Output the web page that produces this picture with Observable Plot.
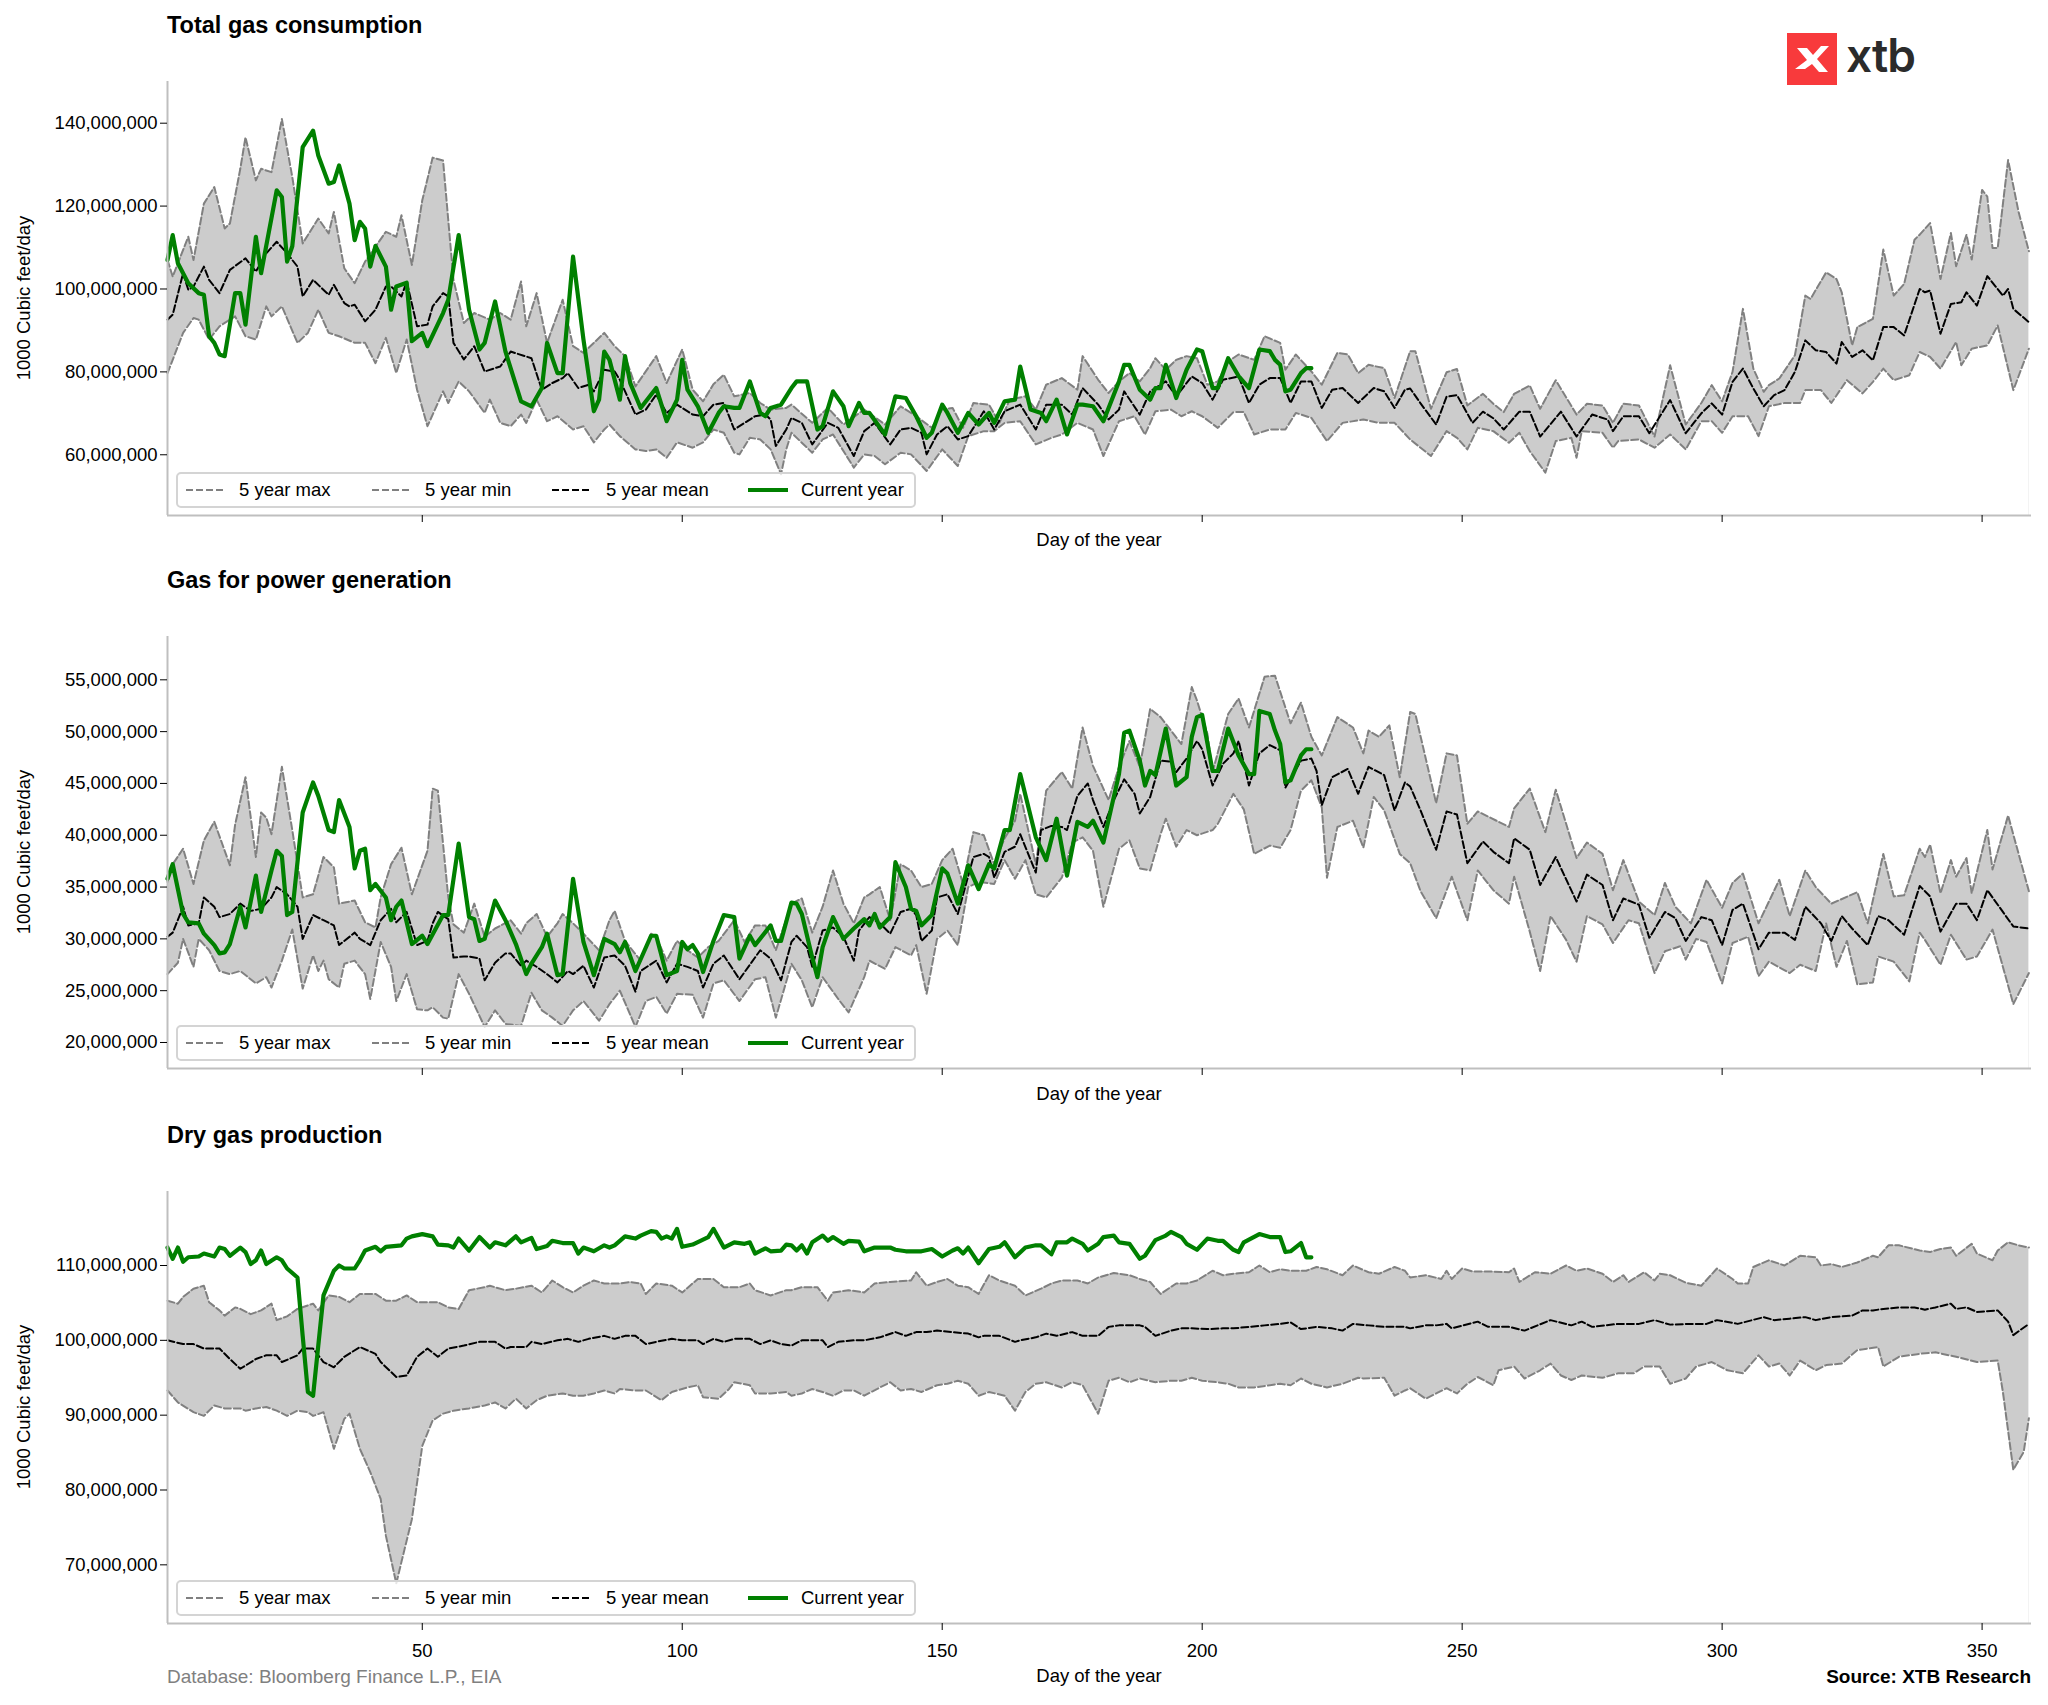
<!DOCTYPE html>
<html><head><meta charset="utf-8">
<script src="https://cdn.jsdelivr.net/npm/d3@7"></script>
<script src="https://cdn.jsdelivr.net/npm/@observablehq/plot@0.6"></script>
<style>
body{margin:0;background:#fff;}
#wrap{position:relative;width:2048px;height:1705px;font-family:"Liberation Sans",Arial,sans-serif;color:#000;background:#fff;overflow:hidden;}
.abs{position:absolute;white-space:nowrap;line-height:1;}
.title{font-weight:bold;font-size:23.5px;}
.lbl{font-size:18.5px;}
.foot{font-size:19px;}
.legend{position:absolute;width:736px;height:32px;border:2px solid #d4d4d4;border-radius:5px;background:rgba(255,255,255,0.8);}
.legend .t{position:absolute;top:7px;font-size:18.5px;line-height:1;white-space:nowrap;}
.legend .s{position:absolute;top:10px;height:12px;}
.legend .s svg{display:block;}
.brand{font-family:Inter,"Open Sans",sans-serif;font-size:46px;font-weight:600;color:#2b2b2b;letter-spacing:-1px;}
</style></head>
<body><div id="wrap"></div>
<script>
const UNIT = 1e6;
const xTicks = [50, 100, 150, 200, 250, 300, 350];
const titles = ["Total gas consumption", "Gas for power generation", "Dry gas production"];
const legendLabels = ["5 year max", "5 year min", "5 year mean", "Current year"];
const yAxisLabel = "1000 Cubic feet/day";
const xAxisLabel = "Day of the year";
const p1YTicks = [60, 80, 100, 120, 140];
const p2YTicks = [20, 25, 30, 35, 40, 45, 50, 55];
const p3YTicks = [70, 80, 90, 100, 110];

// ---------- Panel 1: Total gas consumption (million units of 1000 cubic feet/day) ----------
const p1MaxDays = [1,2,5,6,8,10,12,13,15,16,18,19,21,23,25,27,30,32,33,35,37,39,43,45,46,48,50,52,54,56,58,60,63,65,67,69,70,72,74,77,79,81,85,87,89,91,95,97,100,102,104,106,108,110,113,115,117,120,
121,125,128,131,135,139,142,145,148,150,152,154,156,159,161,163,166,168,170,173,176,177,180,182,184,186,188,190,191,193,195,197,199,201,203,205,207,210,212,215,216,218,221,223,226,228,230,232,235,237,
240,241,244,247,249,251,254,256,258,260,263,265,268,272,274,277,279,281,284,287,290,293,296,298,300,302,304,306,308,309,311,314,316,317,320,322,323,325,326,329,331,333,335,337,338,340,342,344,345,347,348,350,351,352,353,355,357,359];
const p1MaxVals = [107,103,112.6,107,120.6,124.6,114.6,115.8,129,136.6,126.2,129,128.2,141,127,111,117,113.4,118.6,105,101.4,106.6,113.8,112.6,117.8,105.8,121.4,131.7,131,102.2,91.8,94.2,92.6,94.2,92.6,101.8,91,99,87,97.4,86.2,84.6,89.4,86.2,83.8,76.5,83.8,77.3,85.4,75.7,72.9,77,79.3,74.1,74.9,72.5,70.9,71.3,
72.1,67.7,71.3,67.3,70.9,67.3,71.7,69.3,66.5,70.9,71.3,66.5,72.5,72.1,67.7,73.3,74.1,70.9,76.9,78.5,75.7,83.8,78.1,74.9,77.7,79.7,77.7,80.9,83.3,80.5,82.9,83.8,83.3,76.9,77.7,82.5,84.2,82.9,88.6,87,80.5,84.2,80.1,76.9,84.6,84.2,79.7,81.7,80.9,73.7,
85,85,71.1,79.9,80.7,71.9,74.7,72.3,70.3,74.7,76.7,71.1,78,69.7,72.3,71.9,67.7,72.3,71.9,64.4,81.6,67.3,72.5,76.8,72.9,80,95.2,80.8,75.2,76.8,78.4,84,98.4,97.6,104,102.4,99.2,86.4,90.8,92.8,109.5,98.4,101.2,111.9,113.1,115.9,102.4,113.5,105.5,113.1,107.1,123.9,122.3,109.9,109.9,131.1,118.7,109.1];

const p1MinDays = [1,4,6,7,9,11,14,16,18,20,21,23,26,28,30,32,34,37,39,41,43,45,47,49,51,54,55,57,59,62,63,65,67,69,70,72,74,76,79,81,83,85,86,88,91,93,95,97,99,102,104,106,108,110,111,113,115,117,119,120,
121,125,127,129,133,135,137,139,142,144,147,150,153,155,158,160,162,165,168,171,173,176,179,181,184,187,189,191,194,196,198,200,203,206,208,210,213,216,218,221,224,227,231,234,237,
240,244,247,249,251,253,256,259,261,263,266,268,271,272,273,277,279,280,284,287,290,293,296,298,300,302,305,307,309,312,315,316,319,321,324,327,329,331,333,336,338,340,342,345,346,348,351,353,356,359];
const p1MinVals = [79.7,89.4,93,92.6,87.8,91,93.4,88.6,87.8,95.8,93.4,95.8,87,89.4,95,89.4,88.6,87,87,82.1,88.2,79.7,87.8,75.7,66.9,75.3,72.5,77.7,75.3,70.1,73.3,67.7,66.9,69.7,67.7,73.3,68.1,69.3,66.1,66.9,63,66.1,67.3,64.5,61.3,60.9,61.3,59.3,63,61.7,63,66.1,65.3,60.5,60.1,64.1,63.7,61.3,55.3,61.3,
65.3,60.5,63.7,64.9,56.9,60.1,59.7,57.7,60.5,60.1,56.1,61.3,57.3,64.5,65.7,65.7,67.7,68.1,62.5,64.1,64.9,67.7,66.1,59.7,68.1,69.3,64.9,70.5,70.9,69.3,70.5,69.3,66.5,70.3,70.3,64.9,66.1,66.1,70.1,68.9,63.3,67.7,68.5,67.7,67.7,
63.7,59.7,65.7,64.1,61.3,66.5,65.7,62.9,65.3,60.9,55.7,63.3,64.1,59.3,65.7,65.3,61.7,63.3,63.7,61.7,64.9,61.3,68.1,68.1,65.3,69.3,69.3,64.5,71.7,72.5,72.5,75.6,75.6,72.5,78,74.8,77.6,80.8,78,79.2,84.8,83.6,80.8,87.2,81.6,85.6,86.4,91.2,75.6,85.6];

const p1MeanDays = [1,2,4,5,6,8,9,11,13,16,18,20,22,24,26,27,29,32,33,35,36,37,39,41,43,44,46,47,49,51,52,54,55,56,58,60,62,65,67,71,73,75,77,78,80,82,83,85,87,88,91,93,95,97,99,102,104,106,108,110,112,114,116,117,118,120,
121,123,125,128,130,133,135,137,140,142,144,146,147,149,151,153,155,158,160,162,165,168,170,173,175,177,180,182,184,185,188,190,193,195,198,200,202,204,207,209,211,213,215,217,219,221,223,225,227,230,233,235,237,239,
240,242,245,247,249,252,254,256,258,261,263,265,269,272,275,278,279,281,284,286,290,293,296,298,300,302,304,306,308,310,312,314,316,318,320,322,323,325,327,329,331,333,335,338,339,340,342,344,346,347,349,351,354,355,356,359];
const p1MeanVals = [92.6,93.8,103.8,99.8,100.6,105.4,102.2,99,104.6,107.4,104.2,108.6,111.4,108.6,105.4,98.2,102.2,98.6,101,96.6,95.8,96.2,92.2,95,100.6,100.6,98.2,101.8,91,91.4,95.8,99,98.2,87,83,86.2,80.1,81.3,84.9,83.3,75.7,77.3,78.5,79.7,76.1,76.9,75.3,80.5,80.1,78.1,69.7,70.9,74.5,70.1,72.1,69.7,69.3,72.1,72.5,66.1,67.7,69.3,69.7,68.5,62.1,66.1,
68.9,67.7,62.5,67.7,66.5,59.7,65.7,67.7,62.5,66.1,66.5,65.3,60.1,64.9,66.9,63.7,64.5,70.5,66.1,70.5,72.1,66.1,72.1,72.1,69.7,76.1,72.1,68.5,70.9,75.3,69.7,75.3,77.7,74.1,78.9,77.3,73.3,78.1,78.9,72.5,76.9,78.5,78.5,72.5,77.7,77.7,71.3,75.7,76.1,72.5,76.1,75.3,71.3,75.7,
76,72.4,67.3,74,74.4,67.7,70.4,68.8,66.1,70.4,70.4,64.4,70.4,64.4,69.7,68.5,65.7,69.3,69.3,65.2,73.2,65.2,70,72.4,69.7,77.6,80.8,76,71.7,74.4,75.6,80,87.6,85.2,84.8,82,87.2,83.6,85.2,82.8,90.8,90.8,88.8,100,99.2,99.6,89.2,96.4,96.8,99.2,96,103.1,98.4,100,95.2,92];

const p1CurDays = [1,2,3,5,7,8,9,10,11,12,14,15,16,18,19,22,23,24,25,27,29,30,32,33,34,36,37,38,39,40,41,43,44,45,47,48,50,51,54,55,57,59,61,62,64,66,69,71,73,74,76,77,79,81,83,84,85,86,88,89,90,92,95,97,99,100,101,103,105,107,108,110,111,113,115,116,117,119,
121,122,124,126,127,129,131,132,134,135,136,139,141,143,145,147,148,150,151,153,155,157,159,160,162,164,165,167,169,170,172,174,176,177,179,181,184,185,186,188,190,191,192,193,195,197,199,200,202,203,205,207,209,211,213,214,215,216,217,219,220,221];
const p1CurVals = [107,113,106.2,101.4,99,98.6,88.6,87,84.2,83.8,99,99,91.4,112.6,103.8,123.8,122.2,106.6,110.3,134.2,138.2,132.2,125.4,125.8,129.8,120.6,111.8,116.2,114.6,105.4,110.4,105.4,95,100.6,101.5,87.4,89.4,86.2,94.2,97.4,113,95,85.4,87,97,84.9,72.9,71.7,76.1,87,79.7,79.7,107.8,87.8,70.5,73.3,84.9,82.9,73.3,83.8,77.3,71.3,76.1,68.1,73.3,82.9,75.7,71.7,65.3,70.1,71.7,71.3,71.3,77.7,70.1,69.3,71.3,72.1,
76.1,77.7,77.7,66.1,66.9,75.3,71.7,66.9,72.5,70.1,70.1,64.9,74.1,73.7,69.3,64.1,65.3,72.1,70.1,65.3,70.1,67.3,70.1,67.7,72.9,73.3,81.3,70.9,70.1,68.1,73.3,64.9,72.1,72.1,71.7,68.1,77.7,81.7,81.7,75.7,73.3,76.1,76.1,81.7,73.7,80.5,85.4,85,76.1,76.1,83.3,79,76.1,85.4,85,82.9,81.7,75.3,75.7,79.7,80.9,80.9];

// ---------- Panel 2: Gas for power generation ----------
const p2MaxDays = [1,2,4,6,8,10,13,14,16,18,19,20,21,23,25,27,29,31,33,34,37,39,41,42,44,46,48,51,52,53,55,56,58,60,62,64,67,69,70,72,74,76,77,79,81,84,86,87,89,92,94,95,97,99,101,103,105,107,110,112,114,116,118,
121,123,125,127,129,131,133,135,136,138,140,142,144,146,148,150,152,154,156,158,160,162,164,165,168,170,173,175,177,179,182,184,186,188,190,192,194,196,198,199,201,202,205,207,209,212,214,217,219,221,223,226,229,231,232,234,236,238,
240,241,245,247,249,251,253,255,259,260,263,266,268,272,274,277,279,281,284,287,289,291,294,297,300,302,304,307,311,313,316,318,321,326,328,331,333,335,338,339,340,342,344,345,347,348,351,352,355,359];
const p2MaxVals = [35.5,37.2,38.7,35.3,39.5,41.3,37.1,41,45.6,37.9,42.2,41.7,40.1,46.6,40.5,34,34.3,37.9,36.9,33.4,33.7,31.6,31.1,34,37.2,38.8,34.3,38.5,44.5,44.3,34,31.4,30.6,33.4,30.2,31,31.8,30.5,31.5,32.4,30.2,31.5,32.4,31.5,30.5,28.9,31.8,32.7,29.8,27.9,30.5,30.2,27.9,29.8,28.9,28.2,29.2,29.8,31.8,29.7,31.3,31.3,28.9,
33.4,33.9,30.6,33.1,36.6,33.4,31.5,34,34.3,35,31.8,37.2,36.6,35,35.3,37.6,38.7,35.3,40.3,40,37.2,39.7,41.4,44,37.2,44.3,46.1,44.5,50.4,46.7,43.4,46.6,49.1,46.6,52.2,51.4,50.1,48.8,54.3,53,49.8,46.1,51.7,53.2,50.4,55.3,55.4,50.8,52.8,49.5,47.7,51.4,50.4,47.9,50.1,49.5,50.6,45.6,
51.9,51.7,43.1,47.9,47.7,41.1,42.3,41.8,40.8,42.6,44.5,40.3,44.4,37.8,39.3,38.2,34.7,37.6,33.6,32.3,35.4,33.1,31.5,35.7,33,35.4,36.3,31.5,35.7,32.2,36.6,35,33.4,34.5,31.5,38.2,34.1,34.2,38.7,37.9,39.1,34.4,37.6,36,37.8,34.4,40.5,36.7,41.9,34.6];

const p2MinDays = [1,3,4,6,7,9,11,13,15,18,20,21,23,25,27,29,30,31,32,34,35,37,39,40,42,44,45,47,49,51,52,54,55,57,59,62,64,66,69,71,73,75,77,79,81,84,86,88,91,93,95,97,99,102,104,106,108,111,114,116,118,
121,123,125,127,130,132,135,136,139,141,144,145,147,149,151,153,155,157,160,162,164,166,168,170,173,175,177,179,181,184,186,188,190,192,193,195,197,199,202,203,206,208,210,213,215,217,219,221,223,224,226,229,231,233,235,238,
240,242,245,248,251,253,256,259,260,263,265,267,270,272,274,277,279,282,284,287,289,292,293,295,297,300,302,305,307,309,313,315,318,320,322,324,326,329,330,333,336,338,339,342,344,347,349,352,356,359];
const p2MinVals = [26.6,27.7,30,27.3,30,28.9,26.9,26.6,26.9,25.7,26.3,25.3,27.9,30.9,25.2,28.4,26.9,27.9,26.1,25.3,27.6,27.9,26.6,24.2,29.7,27.3,24,26.6,23.2,23.1,23.4,22.4,22.3,26.6,24.7,21.5,23.1,21.8,21.6,24.8,23.1,22.4,21.6,23.1,24,22.1,23.7,25,21.5,24,24.4,22.8,24.7,24.6,22.4,25.7,26,24,26.1,26.3,22.4,
27.6,26,23.4,26.3,24.2,22.9,26.3,27.9,27.1,29.2,28.4,29.4,24.7,30,30.8,29.4,35,35.5,35.3,37.6,35.8,37.6,34.3,34,35.9,39.3,39.8,38.5,33.1,38.7,39.5,36.8,36.6,40.1,41.6,38.9,40.5,40,40.5,41.1,44,42.5,38.2,39,38.8,40.5,44.3,45.3,42.7,35.9,40.8,41.4,38.8,43.7,42.4,38.2,
37.3,34.6,32,36,31.8,36.6,34.7,33.4,36,30.7,26.9,32.2,29.9,27.8,32.2,31.4,29.6,31.8,31.5,26.7,28.8,29.3,28,30,29.7,25.7,29.6,30.2,26.4,27.8,26.7,27.5,26.9,31.5,27.3,29.8,25.6,25.8,28.3,27.8,25.9,30.6,29.9,27.5,30.4,28,28.3,30.9,23.7,26.7];

const p2MeanDays = [1,2,4,5,7,8,10,11,13,15,17,19,21,22,24,26,27,29,31,33,34,37,38,40,42,44,45,47,49,51,52,53,55,56,58,59,61,62,64,66,67,69,70,72,74,76,78,79,81,83,85,87,89,91,92,95,97,99,101,103,104,106,108,111,114,115,117,119,
121,122,124,125,127,129,131,133,134,136,138,140,142,144,145,146,148,149,151,153,156,158,159,160,162,164,165,168,169,171,173,174,176,178,179,181,183,185,187,188,190,192,194,195,197,199,200,202,204,206,207,209,211,213,215,216,219,221,222,223,225,228,230,232,235,237,239,
240,242,245,247,249,251,254,256,259,260,263,265,268,272,274,277,279,281,284,286,289,291,293,296,298,300,302,304,307,309,312,314,316,319,321,323,325,328,330,332,335,338,340,342,345,347,349,351,354,356,359];
const p2MeanVals = [30.2,30.6,33.1,31.3,31.5,34,33.1,32.1,32.4,33.4,32.7,32.9,34,35,34.3,33.1,30,32.3,31.8,31.3,29.4,30.6,30,29.4,31.8,32.9,31.6,32.6,29.4,29.8,31.5,32.6,31.9,28.2,28.3,28.3,28.1,26,27.7,28.6,28.6,27.4,27.9,27.3,26.6,25.8,26.9,26.6,27.4,25.3,28.2,28.4,27.4,24.9,26.9,27.9,25.8,27.6,27.3,26.9,25.3,27.6,28.4,26.1,28.2,28.9,28.1,26,
29.7,30.3,29.2,27.3,30.8,31.1,30.2,27.9,30.8,32.1,31.5,30.5,32.6,32.9,32.3,29.8,30.8,34,34.3,32.4,37.9,38.2,37.9,35.9,38.4,38.9,40.1,36.4,40.5,40.9,40.8,40.5,43.8,45,43.4,40.8,43.4,45.4,44,42.1,43.7,47.2,47.1,46.1,47.4,49.1,48.3,44.8,46.9,47.9,49.1,44.8,47.9,48.7,48.2,44.6,47.2,47.4,46.2,42.9,45.6,46.4,44,46.6,45.8,42.4,45.1,
44.7,42.4,38.6,42.3,42,37.3,39.4,38.4,37.3,39.7,38.6,35.2,37.9,33.6,36.2,35.2,31.8,33.9,33.3,30.1,32.6,32,29.8,32.1,31.8,29.4,32.8,33.4,29,30.6,30.6,29.9,33.1,31.5,29.8,32.2,31,29.4,32.2,31.8,30.4,35.1,34.1,30.7,33.4,33.4,31.8,34.7,32.6,31.2,31];

const p2CurDays = [1,2,4,5,7,8,10,11,12,13,15,16,18,19,21,22,23,24,25,27,29,30,32,33,34,36,37,38,39,40,41,43,44,45,46,48,50,51,54,55,57,59,60,61,62,64,66,68,70,71,73,74,76,77,79,81,83,85,87,88,89,91,94,95,97,99,100,101,102,103,104,106,108,110,111,113,114,117,118,119,
121,122,123,125,126,127,129,131,133,135,136,137,138,140,141,143,144,145,146,148,150,151,153,155,157,159,160,162,163,165,168,170,172,174,176,178,179,181,184,185,186,188,189,190,191,193,195,197,198,199,200,202,203,205,207,209,210,211,213,214,215,216,217,219,220,221];
const p2CurVals = [35.8,37.2,32.4,31.6,31.5,30.5,29.4,28.6,28.7,29.5,33.1,31.1,36.1,32.6,36.6,38.5,38,32.3,32.6,42.2,45.1,43.8,40.5,40.3,43.4,40.8,36.8,38.5,38.7,34.7,35.3,34,31.8,33.1,33.7,29.5,30.3,29.5,32.3,32.3,39.2,32.1,31.9,29.8,30,33.7,31.8,29.5,26.6,27.6,29.2,30.5,26.5,26.6,35.8,29.7,26.5,30,29.5,28.7,29.7,26.9,30.3,30.3,26.5,26.9,29.7,29,29.4,28.6,26.8,29.8,32.3,32.1,28.1,30.3,29.4,31.3,29.8,29.8,
33.5,33.4,32.4,28.2,26.3,29.2,32.1,30,31,31.9,31.3,32.4,31.1,32.1,37.4,35,32.9,32.7,31.3,32.3,36.8,36.3,33.4,37.1,34.8,37.2,36.8,40.5,40.5,45.9,39.8,37.6,41.6,36.1,41.3,40.8,41.4,39.3,45.9,49.9,50.1,47.2,44.8,46.2,45.8,50.3,44.8,45.6,49.5,51.4,51.6,46.2,46.2,50.3,47.7,45.9,45.9,52,51.7,50.1,48.8,45.1,45.3,47.7,48.3,48.3];

// ---------- Panel 3: Dry gas production ----------
const p3MaxDays = [1,3,4,6,8,9,11,12,14,15,17,19,21,22,24,26,29,30,32,34,36,38,41,43,45,47,49,51,53,55,57,59,62,63,66,68,71,73,75,77,79,81,83,85,88,90,92,93,95,98,100,103,106,108,111,113,114,117,120,
121,123,126,128,129,132,135,137,140,144,145,147,149,151,153,155,157,159,161,164,166,169,171,173,176,178,180,183,186,188,190,192,195,197,199,202,204,206,209,211,213,215,217,220,222,224,227,229,232,234,237,239,
240,243,246,247,248,250,252,255,259,260,261,264,267,270,272,274,277,279,281,282,285,287,288,290,293,296,299,302,303,305,306,309,312,315,318,319,321,323,326,329,330,332,334,338,340,342,344,345,348,349,352,353,355,357,359];
const p3MaxVals = [105.3,104.9,105.8,106.9,107.3,105.1,104,103.3,104.4,104.2,103.5,104,104.9,102.7,103.2,104.2,104.9,104,106,105.8,105.1,106.2,106.2,105.3,105.3,106,105.1,105.1,105.1,104.4,104.2,106.7,107.1,107.3,106.7,106.9,107.3,106.4,108,107.1,106.4,107.3,108,107.6,107.6,107.8,107.6,106.2,107.6,107.3,106.4,108.2,108.2,107.1,107.1,107.6,106.7,106,106.7,
106.7,107.1,107.1,105.3,106.4,106.7,106.4,107.6,107.8,108,109.1,107.3,107.8,108.2,107.3,107.1,106.2,108.7,108,107.3,106,106.9,107.6,108,108,107.6,108.4,109,108.7,108.2,107.8,106.2,107.6,107.6,108,109.3,108.7,108.9,109.1,110,109.1,109.5,109.3,109.3,109.8,109.5,108.7,110,109.1,108.9,109.8,109.3,
108.4,108.7,108.2,109.3,108.2,109.6,109.2,109.2,109.1,109.6,107.8,109.1,108.9,110,109.3,109.6,108.9,107.8,108.7,107.8,109.1,108,108.9,108.7,107.7,107.3,109.6,108.2,107.6,107.6,109.8,110.7,110,111.3,111.1,110,110.2,109.8,110.4,111.3,111.1,112.7,112.7,112,111.8,112.2,112.4,111.3,112.9,111.6,110.7,112,113.1,112.7,112.4];

const p3MinDays = [1,3,6,8,10,12,15,16,18,20,22,24,26,28,29,31,33,35,36,38,40,42,43,45,46,48,50,52,54,56,59,62,64,66,68,70,72,74,77,79,81,83,85,87,88,91,93,96,98,101,103,104,107,109,110,113,114,117,120,
121,123,125,127,129,131,133,135,138,140,142,144,146,149,151,153,155,157,159,162,164,166,168,170,173,175,177,180,182,184,186,188,191,194,196,198,200,203,205,207,210,213,215,217,219,221,224,227,230,231,235,237,239,
240,243,245,247,249,251,253,256,257,260,262,265,267,269,271,273,277,280,283,285,288,290,293,295,298,301,304,307,309,311,313,315,318,320,323,326,330,331,334,338,341,345,349,353,354,356,358,359];
const p3MinVals = [93.3,91.7,90.4,89.9,91.3,90.9,90.9,90.6,90.9,91.1,90.6,89.9,90.6,90.4,89.9,90.4,85.5,89.5,90.2,85.5,82.4,78.8,73.9,67.5,70.4,76.1,85.9,89.3,90.2,90.6,90.9,91.3,91.7,90.9,92.2,90.9,92,92.6,92.9,92.6,92.6,92.9,93.3,92.9,93.5,93.3,93.3,92,93.1,93.7,94,92.4,92.2,93.5,94.4,94,92.9,92.9,93.1,
92.6,92.9,93.5,93.1,92.6,93.3,93.3,92.6,93.7,94.4,93.3,93.5,93.1,94,94.2,94.6,94.2,92.6,93.1,92.6,90.6,93.1,94.2,94.4,93.7,94.4,94,90.2,94.6,95,94.4,94.9,94.4,94.6,94.6,95,94.6,94.4,94.2,93.7,93.7,94,94.2,94,94.9,94.2,93.7,94.2,95,94.9,95,92.6,93.3,
93.6,92.2,92.9,93.6,92.9,94.2,95.1,94,96,96.5,94.9,96,96.9,95.3,94.7,95.3,95,95.6,95.6,96.5,96.5,94.2,94.9,96.5,97.1,96,95.6,98,96.5,96.9,95.3,97.3,96,96.7,96.9,98.7,99.1,96.5,97.8,98.2,98.4,97.8,97.1,97.3,93.1,82.7,85.1,89.6];

const p3MeanDays = [1,4,6,8,10,11,13,15,18,20,22,23,26,27,29,31,33,35,38,41,42,45,47,49,51,53,55,58,61,63,64,66,67,70,71,73,76,78,80,82,85,87,89,91,93,95,98,100,103,104,106,108,110,113,115,117,119,
121,123,126,127,128,130,133,135,138,141,143,145,147,149,152,155,157,158,161,164,165,168,170,172,175,177,180,182,184,186,188,189,191,194,196,198,201,204,206,209,212,215,217,219,222,225,227,229,232,235,239,
240,243,245,247,248,253,255,259,262,267,271,273,275,280,284,287,288,290,294,297,299,303,308,310,313,316,318,321,325,327,329,331,334,337,339,341,344,345,347,349,353,355,356,359];
const p3MeanVals = [100,99.5,99.5,98.9,98.9,98.9,97.5,96.2,97.5,98,98,97.1,98,98.9,98.9,97.1,96.4,97.8,99.1,98.2,97.1,95.1,95.3,97.8,98.9,97.8,98.9,99.3,99.8,99.8,99.8,98.9,99.1,99.1,99.8,99.5,100,100.2,99.8,100.2,100.6,100.2,100.6,100.6,99.5,99.8,100.2,100,100,99.5,100.2,99.8,100.2,100.2,99.5,100,99.5,
99.3,100,100,100,99.1,99.8,100,100,100.4,101.1,100.6,101.1,101.1,101.3,101.1,100.9,100.4,100.6,100.6,99.8,100,100.4,100.9,100.6,101.1,100.6,100.6,101.8,102,102,102,101.8,100.6,101.3,101.6,101.6,101.5,101.6,101.6,101.8,102,102.2,102.4,101.5,101.8,101.6,101.3,102.2,102,101.8,101.8,
101.6,102,102,102.2,101.6,102.5,101.8,101.8,101.3,102.7,102,102.5,101.8,102.2,102.2,102.7,102.5,102.1,102.2,102.2,102.7,102.2,103.1,102.7,102.9,103.1,102.7,103.1,103.3,104,104,104.2,104.4,104.4,104.1,104.4,104.9,104.2,104.4,103.8,104,102.5,100.7,102.2];

const p3CurDays = [1,2,3,4,5,7,8,10,11,12,13,15,16,17,18,19,20,22,23,24,26,27,28,29,30,31,33,34,35,37,38,39,41,42,43,46,47,48,50,52,53,55,56,57,59,61,62,63,64,66,68,69,71,72,74,75,77,79,80,81,83,85,86,87,89,91,92,94,95,96,97,98,99,100,102,105,106,108,110,112,113,114,116,117,119,120,
121,122,123,124,125,127,128,129,131,132,134,135,137,140,141,143,146,148,150,152,153,154,155,157,159,161,162,164,166,168,169,171,172,174,175,177,178,180,181,183,184,186,188,189,191,193,194,196,197,199,201,203,204,206,207,208,211,213,215,216,217,219,220,221];
const p3CurVals = [112.4,110.9,112.4,110.5,111.1,111.2,111.6,111.2,112.4,112.2,111.3,112.4,111.8,110.2,110.7,112,110.2,111.1,110.7,109.6,108.4,100.6,93.1,92.6,99.3,106,109.3,110,109.6,109.6,110.7,112,112.5,111.9,112.5,112.7,113.6,113.9,114.2,113.9,112.8,112.7,112.4,113.6,112,113.8,113.1,112.4,113.1,112.7,113.9,113.1,113.7,112.2,112.6,113.3,113,113,111.6,112.4,111.9,112.7,112.4,112.7,113.9,113.6,114,114.6,114.5,113.6,113.9,113.6,114.9,112.5,112.8,113.8,114.9,112.4,113.1,112.9,113.1,111.6,112.3,111.9,112,112.8,
112.7,112,112.7,111.6,113.1,114,113.3,113.8,112.9,113.3,113.2,111.9,112.4,112.4,112.1,111.9,111.9,112.2,111.2,112,112.3,111.6,112.4,110.3,112.2,112.5,113.1,111.1,112.4,112.7,112.7,111.5,113.1,113.1,113.6,112.9,112,112.9,113.8,114,113.1,112.9,110.9,111.3,113.4,114,114.5,113.8,112.9,112.1,113.6,113.3,113.3,112.1,111.8,113.1,114.2,113.8,113.8,111.8,111.9,113,111.1,111.1];

// ---------- build ----------
const rows = (days, vals) => days.map((d, i) => ({day: d, v: vals[i]}));

const panels = [
  {title: titles[0], yDomain: [45.35, 150.06], yTicks: p1YTicks, top: 0, mt: 81, fh: 434, mb: 45, xLabels: false, xlab: 16,
   max: rows(p1MaxDays, p1MaxVals), min: rows(p1MinDays, p1MinVals), mean: rows(p1MeanDays, p1MeanVals), cur: rows(p1CurDays, p1CurVals)},
  {title: titles[1], yDomain: [17.49, 59.18], yTicks: p2YTicks, top: 560, mt: 76, fh: 432, mb: 47, xLabels: false, xlab: 17,
   max: rows(p2MaxDays, p2MaxVals), min: rows(p2MinDays, p2MinVals), mean: rows(p2MeanDays, p2MeanVals), cur: rows(p2CurDays, p2CurVals)},
  {title: titles[2], yDomain: [62.16, 119.89], yTicks: p3YTicks, top: 1115, mt: 76, fh: 432, mb: 82, xLabels: true, xlab: 44,
   max: rows(p3MaxDays, p3MaxVals), min: rows(p3MinDays, p3MinVals), mean: rows(p3MeanDays, p3MeanVals), cur: rows(p3CurDays, p3CurVals)}
];

const wrap = document.getElementById("wrap");
const fmt = d3.format(",");
const GRAY = "#808080", BAND = "#cccccc", GREEN = "#008000", SPINE = "#bfbfbf";

function addDiv(cls, text, style) {
  const el = document.createElement("div");
  el.className = "abs " + cls;
  el.textContent = text;
  Object.assign(el.style, style);
  wrap.appendChild(el);
  return el;
}

function sampleSvg(w, stroke, sw, dash) {
  return `<svg width="${w}" height="12"><line x1="0" y1="6" x2="${w}" y2="6" stroke="${stroke}" stroke-width="${sw}" ${dash ? `stroke-dasharray="${dash}"` : ""}/></svg>`;
}

panels.forEach(p => {
  const [lo, hi] = p.yDomain;
  const height = p.mt + p.fh + p.mb;
  const chart = Plot.plot({
    width: 2048, height,
    marginLeft: 167, marginRight: 17, marginTop: p.mt, marginBottom: p.mb,
    x: {domain: [1, 359.5]},
    y: {domain: [lo, hi]},
    style: {fontFamily: "'Liberation Sans', Arial, sans-serif", fontSize: "18.5px", color: "#000", background: "transparent", overflow: "visible"},
    marks: [
      Plot.areaY(p.max, {x: "day", y1: () => lo, y2: "v", fill: BAND}),
      Plot.areaY(p.min, {x: "day", y1: () => lo, y2: "v", fill: "#ffffff"}),
      Plot.lineY(p.max, {x: "day", y: "v", stroke: GRAY, strokeWidth: 2, strokeDasharray: "7,3"}),
      Plot.lineY(p.min, {x: "day", y: "v", stroke: GRAY, strokeWidth: 2, strokeDasharray: "7,3"}),
      Plot.lineY(p.mean, {x: "day", y: "v", stroke: "#000", strokeWidth: 2, strokeDasharray: "7,3"}),
      Plot.lineY(p.cur, {x: "day", y: "v", stroke: GREEN, strokeWidth: 4.2, strokeLinejoin: "round"}),
      Plot.ruleX([1], {stroke: SPINE, strokeWidth: 2}),
      Plot.ruleY([lo], {stroke: SPINE, strokeWidth: 2}),
      Plot.axisY({ticks: p.yTicks, tickFormat: d => fmt(Math.round(d * UNIT)), tickSize: 7, tickPadding: 3, label: null}),
      Plot.axisX({ticks: xTicks, tickFormat: p.xLabels ? (d => String(d)) : (() => ""), tickSize: 7, tickPadding: 13, label: null})
    ]
  });
  chart.style.position = "absolute";
  chart.style.top = p.top + "px";
  chart.style.left = "0px";
  chart.style.maxWidth = "none";
  wrap.appendChild(chart);

  const fTop = p.top + p.mt, fBot = fTop + p.fh;
  addDiv("title", p.title, {left: "167px", top: (fTop - 67) + "px"});
  addDiv("lbl", yAxisLabel, {left: "24px", top: ((fTop + fBot) / 2) + "px", transform: "translate(-50%,-50%) rotate(-90deg)"});
  addDiv("lbl", xAxisLabel, {left: "1099px", top: (fBot + p.xlab) + "px", transform: "translateX(-50%)"});

  const lg = document.createElement("div");
  lg.className = "legend";
  lg.style.left = "176px";
  lg.style.top = (fBot - 43) + "px";
  const items = [
    {x: 8, w: 37, tx: 61, stroke: GRAY, sw: 2, dash: "7,3"},
    {x: 194, w: 37, tx: 247, stroke: GRAY, sw: 2, dash: "7,3"},
    {x: 374, w: 37, tx: 428, stroke: "#000", sw: 2, dash: "7,3"},
    {x: 570, w: 40, tx: 623, stroke: GREEN, sw: 4.2, dash: null}
  ];
  let html = "";
  items.forEach((it, i) => {
    html += `<div class="s" style="left:${it.x}px">${sampleSvg(it.w, it.stroke, it.sw, it.dash)}</div>`;
    html += `<div class="t" style="left:${it.tx}px">${legendLabels[i]}</div>`;
  });
  lg.innerHTML = html;
  wrap.appendChild(lg);
});

// footer
addDiv("foot", "Database: Bloomberg Finance L.P., EIA", {left: "167px", top: "1667px", color: "#808080"});
addDiv("foot", "Source: XTB Research", {right: "17px", top: "1667px", fontWeight: "bold"});

// logo: red mark + wordmark
const mark = document.createElement("div");
mark.className = "abs";
mark.style.left = "1787px";
mark.style.top = "33px";
mark.innerHTML = `<svg width="50" height="52" viewBox="0 0 50 52" style="display:block">
  <rect x="0" y="0" width="50" height="52" fill="#f83a3c"/>
  <path d="M10 15 L20 15 L26 22 L34 13 L42 13 L30 26 L41 39 L32 39 L25 31 L18 36 L8 36 L20 27 Z" fill="#ffffff"/>
</svg>`;
wrap.appendChild(mark);
addDiv("brand", "xtb", {left: "1846px", top: "32px"});
</script>
</body></html>
